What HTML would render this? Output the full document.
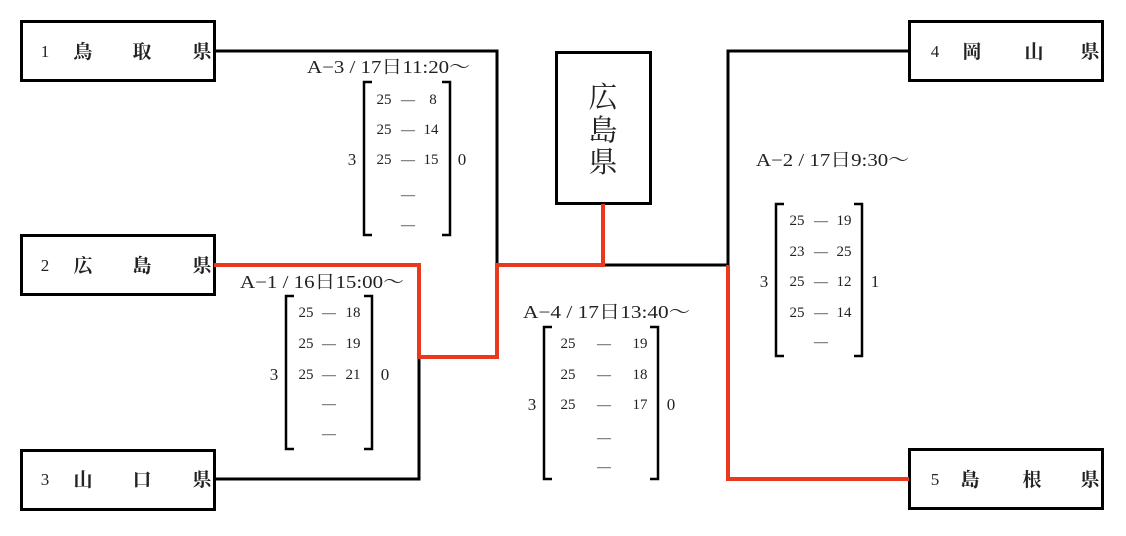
<!DOCTYPE html>
<html><head><meta charset="utf-8"><style>
html,body{margin:0;padding:0;background:#fff;}
svg{display:block;}
text{font-family:"Liberation Serif","Noto Serif CJK SC",serif;fill:#222;}
.b{font-family:"Liberation Sans","Noto Sans CJK JP",sans-serif;font-weight:bold;font-size:19px;fill:#000;}
.n{font-size:17px;fill:#000;}
.s{font-size:15px;}
.d{font-size:14px;}
.t{font-size:18px;fill:#2a2418;}
</style></head><body>
<svg width="1126" height="536" viewBox="0 0 1126 536" xmlns="http://www.w3.org/2000/svg">
<g fill="none" stroke="#000" stroke-width="3">
<rect x="21.5" y="21.5" width="193" height="59"/>
<rect x="21.5" y="235.5" width="193" height="59"/>
<rect x="21.5" y="450.5" width="193" height="59"/>
<rect x="909.5" y="21.5" width="193" height="59"/>
<rect x="909.5" y="449.5" width="193" height="59"/>
<rect x="556.5" y="52.5" width="94" height="151"/>
<polyline points="214,51 497,51 497,265"/>
<polyline points="214,479 419,479 419,357"/>
<polyline points="603,265 728,265 728,51 909,51"/>
</g>
<g fill="none" stroke="#e8391f" stroke-width="4">
<polyline points="214,265 419,265 419,357 497,357 497,265 603,265 603,204"/>
<polyline points="728,265 728,479 909,479"/>
</g>
<g class="b" text-anchor="middle">
<text x="83" y="58">鳥</text><text x="142" y="58">取</text><text x="202" y="58">県</text>
<text x="83" y="272">広</text><text x="142" y="272">島</text><text x="202" y="272">県</text>
<text x="83" y="486">山</text><text x="142" y="486">口</text><text x="202" y="486">県</text>
<text x="972" y="58">岡</text><text x="1034" y="58">山</text><text x="1090" y="58">県</text>
<text x="970" y="486">島</text><text x="1032" y="486">根</text><text x="1090" y="486">県</text>
</g>
<g class="n" text-anchor="middle">
<text x="45" y="57">1</text><text x="45" y="271">2</text><text x="45" y="485">3</text>
<text x="935" y="57">4</text><text x="935" y="485">5</text>
</g>
<g text-anchor="middle" style="font-size:29px;fill:#000">
<text x="603" y="107">広</text><text x="603" y="140">島</text><text x="603" y="172">県</text>
</g>
<g class="t">
<text x="307" y="73" textLength="163" lengthAdjust="spacingAndGlyphs">A−3 / 17日11:20～</text>
<text x="240" y="288" textLength="164" lengthAdjust="spacingAndGlyphs">A−1 / 16日15:00～</text>
<text x="523" y="318" textLength="167" lengthAdjust="spacingAndGlyphs">A−4 / 17日13:40～</text>
<text x="756" y="166" textLength="153" lengthAdjust="spacingAndGlyphs">A−2 / 17日9:30～</text>
</g>
<g fill="none" stroke="#000" stroke-width="2.5">
<path d="M372,82 H364 V235 H372 M442,82 H450 V235 H442"/>
<path d="M294,296 H286 V449 H294 M364,296 H372 V449 H364"/>
<path d="M552,327 H544 V479 H552 M650,327 H658 V479 H650"/>
<path d="M784,204 H776 V356 H784 M854,204 H862 V356 H854"/>
</g>
<g class="s" text-anchor="middle">
<text x="384" y="104">25</text><text x="433" y="104">8</text>
<text x="384" y="134">25</text><text x="431" y="134">14</text>
<text x="384" y="164">25</text><text x="431" y="164">15</text>
<text x="306" y="317">25</text><text x="353" y="317">18</text>
<text x="306" y="348">25</text><text x="353" y="348">19</text>
<text x="306" y="379">25</text><text x="353" y="379">21</text>
<text x="568" y="348">25</text><text x="640" y="348">19</text>
<text x="568" y="379">25</text><text x="640" y="379">18</text>
<text x="568" y="409">25</text><text x="640" y="409">17</text>
<text x="797" y="225">25</text><text x="844" y="225">19</text>
<text x="797" y="256">23</text><text x="844" y="256">25</text>
<text x="797" y="286">25</text><text x="844" y="286">12</text>
<text x="797" y="317">25</text><text x="844" y="317">14</text>
</g>
<g class="d" text-anchor="middle">
<text x="408" y="104">—</text><text x="408" y="134">—</text><text x="408" y="164">—</text><text x="408" y="199">—</text><text x="408" y="229">—</text>
<text x="329" y="317">—</text><text x="329" y="348">—</text><text x="329" y="379">—</text><text x="329" y="408">—</text><text x="329" y="438">—</text>
<text x="604" y="348">—</text><text x="604" y="379">—</text><text x="604" y="409">—</text><text x="604" y="442">—</text><text x="604" y="471">—</text>
<text x="821" y="225">—</text><text x="821" y="256">—</text><text x="821" y="286">—</text><text x="821" y="317">—</text><text x="821" y="346">—</text>
</g>
<g class="n" text-anchor="middle">
<text x="352" y="165">3</text><text x="462" y="165">0</text>
<text x="274" y="380">3</text><text x="385" y="380">0</text>
<text x="532" y="410">3</text><text x="671" y="410">0</text>
<text x="764" y="287">3</text><text x="875" y="287">1</text>
</g>
</svg>
</body></html>
